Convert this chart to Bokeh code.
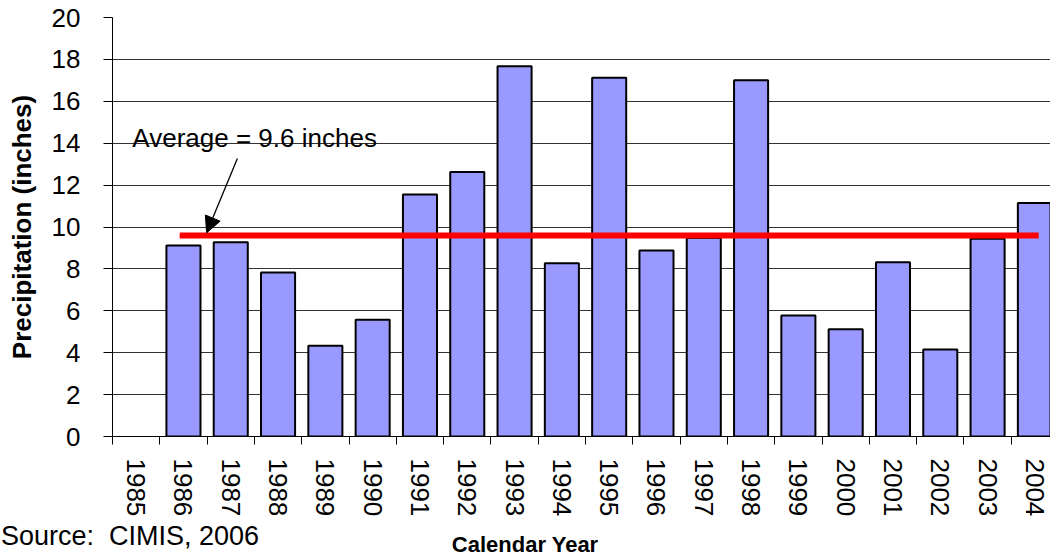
import math
from bokeh.plotting import figure
from bokeh.layouts import column
from bokeh.models import FixedTicker, Label, Arrow, NormalHead, Range1d, ColumnDataSource, Div
from bokeh.embed import file_html
from bokeh.resources import INLINE

# ---- data ----
years = [1985, 1986, 1987, 1988, 1989, 1990, 1991, 1992, 1993, 1994,
         1995, 1996, 1997, 1998, 1999, 2000, 2001, 2002, 2003, 2004]
precip = [None, 9.12, 9.27, 7.83, 4.33, 5.57, 11.55, 12.62, 17.67, 8.27,
          17.12, 8.88, 9.48, 17.0, 5.78, 5.12, 8.32, 4.15, 9.44, 11.14]
avg_value = 9.6
avg_years = [1986, 2004]
y_ticks = [0, 2, 4, 6, 8, 10, 12, 14, 16, 18, 20]
annotation_text = "Average = 9.6 inches"
source_text = "Source:  CIMIS, 2006"
x_title = "Calendar Year"
y_title = "Precipitation (inches)"

FONT = "Liberation Sans"

idx = {y: i for i, y in enumerate(years)}
centers = [i + 0.5 for i in range(len(years))]
bounds = [float(i) for i in range(len(years) + 1)]

bx = [idx[y] + 0.5 for y, v in zip(years, precip) if v is not None]
bv = [v for v in precip if v is not None]
src = ColumnDataSource(dict(x=bx, top=bv))

p = figure(width=1050, height=520, output_backend="svg", toolbar_location=None,
           x_range=Range1d(0, 19.83), y_range=Range1d(0, 20),
           min_border_left=112, min_border_top=17, min_border_bottom=84,
           min_border_right=0)
p.outline_line_color = None
p.background_fill_color = "white"

p.vbar(x="x", top="top", bottom=0, width=0.72, source=src,
       fill_color="#9999FF", line_color="black", line_width=2)

# average line
ax0 = idx[avg_years[0]] + 0.5 - 0.08
ax1 = idx[avg_years[1]] + 0.5 + 0.08
p.line([ax0, ax1], [avg_value, avg_value], line_color="#FF0000", line_width=6)

# arrow + text
p.add_layout(Arrow(end=NormalHead(size=16, fill_color="black", line_color="black"),
                   x_start=2.64, y_start=13.27, x_end=1.99, y_end=9.72,
                   line_color="black", line_width=1.3))
p.add_layout(Label(x=0.42, y=14.27, text=annotation_text, text_font=FONT,
                   text_font_size="26px", text_color="black",
                   text_baseline="alphabetic", text_align="left"))

# axes
yax = p.yaxis[0]
yax.ticker = FixedTicker(ticks=y_ticks)
yax.axis_line_color = "black"
yax.major_tick_line_color = "black"
yax.major_tick_out = 9
yax.major_tick_in = 0
yax.minor_tick_out = 0
yax.minor_tick_in = 0
yax.major_label_standoff = 23
yax.major_label_text_font = FONT
yax.major_label_text_font_size = "26px"
yax.major_label_text_color = "black"
yax.axis_label = y_title
yax.axis_label_text_font = FONT
yax.axis_label_text_font_style = "bold"
yax.axis_label_text_font_size = "26px"
yax.axis_label_text_color = "black"
yax.axis_label_standoff = 12

xax = p.xaxis[0]
xax.ticker = FixedTicker(ticks=centers, minor_ticks=bounds)
xax.major_label_overrides = {c: str(y) for c, y in zip(centers, years)}
xax.axis_line_color = "black"
xax.major_tick_out = 0
xax.major_tick_in = 0
xax.minor_tick_out = 8
xax.minor_tick_in = 0
xax.minor_tick_line_color = "black"
xax.major_label_orientation = -math.pi / 2
xax.major_label_standoff = 14
xax.major_label_text_font = FONT
xax.major_label_text_font_size = "26px"
xax.major_label_text_color = "black"

p.xgrid.visible = False
p.ygrid.ticker = FixedTicker(ticks=y_ticks)
p.ygrid.grid_line_color = "black"
p.ygrid.grid_line_alpha = 0.8

# bottom strip: source note and x-axis title
strip_html = (
    '<div style="position:relative;width:1050px;height:39px;margin:0;padding:0;'
    'font-family:\'Liberation Sans\';color:black;">'
    '<span style="position:absolute;left:1px;top:3px;font-size:27px;line-height:27px;'
    'white-space:pre;">' + source_text + '</span>'
    '<span style="position:absolute;left:525px;top:14px;font-size:22px;line-height:22px;'
    'font-weight:bold;white-space:pre;transform:translateX(-50%);">' + x_title + '</span>'
    '</div>'
)
strip = Div(text=strip_html, width=1050, height=39, margin=(0, 0, 0, 0))

open("out.html", "w").write(file_html(column(p, strip, spacing=0), INLINE))
